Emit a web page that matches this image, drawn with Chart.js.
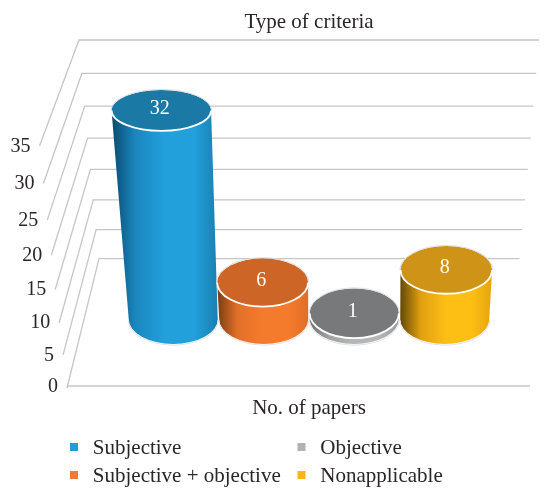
<!DOCTYPE html>
<html>
<head>
<meta charset="utf-8">
<style>html,body{margin:0;padding:0;background:#fff}#w{width:547px;height:488px}</style>
<script src="https://cdn.jsdelivr.net/npm/chart.js@4"></script>
</head>
<body>
<div id="w"><canvas id="c" width="547" height="488"></canvas></div>
<script>
const categories = ["Subjective", "Subjective + objective", "Objective", "Nonapplicable"];
const values = [32, 6, 1, 8];
const tickLabels = [0, 5, 10, 15, 20, 25, 30, 35];
const legendOrder = ["Subjective", "Objective", "Subjective + objective", "Nonapplicable"];

const FONT = '"Liberation Serif"';
const INK = '#2a2627';
const swatch = ['#1f9ddb', '#f47a2d', '#b2b3b6', '#fdb515'];
const topFill = ['#1b79a6', '#cc6525', '#77797b', '#cf9317'];
const sideStops = [
  ['#0a4a6e', '#1a86be', '#22a0dc', '#22a0dc', '#1a7fb0'],
  ['#7a3c14', '#e06f28', '#f57b2c', '#f57b2c', '#e26e27'],
  ['#6f7173', '#a0a2a4', '#b4b6b8', '#b4b6b8', '#98999b'],
  ['#634805', '#e09f10', '#fdbf14', '#fdbf14', '#e5a30f']
];

function wave(t) { return 4 * t * (1 - t); }
function wallPoints(t) {
  return {
    fx: 67 - 27.5 * t, fy: 386 - 240 * t + 6.5 * wave(t),
    bx: 99 - 20 * t,   by: 258.7 - 218.7 * t + 4.5 * wave(t),
    rx: 519.5 + 19.5 * t
  };
}

const scene = {
  id: 'scene',
  beforeDatasetsDraw(chart) {
    const ctx = chart.ctx, y = chart.scales.y, area = chart.chartArea;
    const span = area.bottom - area.top;
    ctx.save();
    ctx.lineWidth = 1.3;
    ctx.lineCap = 'butt';
    tickLabels.forEach(v => {
      const t = (area.bottom - y.getPixelForValue(v)) / span;
      const p = wallPoints(t);
      ctx.strokeStyle = '#c6c6c6';
      ctx.beginPath();
      ctx.moveTo(p.fx, v === 0 ? p.fy + 2 : p.fy);
      ctx.lineTo(p.bx, p.by);
      ctx.lineTo(p.rx, p.by);
      ctx.stroke();
      ctx.fillStyle = INK;
      ctx.font = '20px ' + FONT;
      ctx.textAlign = 'right';
      ctx.textBaseline = 'middle';
      ctx.fillText(String(v), p.fx - 9, p.fy + 0.5);
    });
    ctx.strokeStyle = '#c6c6c6';
    ctx.beginPath();
    ctx.moveTo(67, 386);
    ctx.lineTo(530, 386);
    ctx.stroke();

    const meta = chart.getDatasetMeta(0);
    meta.data.forEach((el, i) => {
      const t = (area.bottom - el.y) / span;
      const baseX = el.x, baseY = area.bottom;
      const rb = el.width / 2, ryb = 24.5;
      const topX = baseX + (baseX - 352) * 0.073 * t;
      const topY = baseY - 212.5 * t - 17.5 * t * t;
      const rt = rb * (1 + 0.13 * t), ryt = 25 - 5 * t;

      const sidePath = () => {
        ctx.beginPath();
        ctx.moveTo(topX - rt, topY);
        ctx.lineTo(baseX - rb, baseY);
        ctx.ellipse(baseX, baseY, rb, ryb, 0, Math.PI, 0, true);
        ctx.lineTo(topX + rt, topY);
        ctx.ellipse(topX, topY, rt, ryt, 0, 0, Math.PI, false);
        ctx.closePath();
      };
      const g = ctx.createLinearGradient(Math.min(baseX - rb, topX - rt), 0, Math.max(baseX + rb, topX + rt), 0);
      const stops = [0, 0.22, 0.5, 0.78, 1];
      sideStops[i].forEach((c, k) => g.addColorStop(stops[k], c));
      sidePath();
      ctx.fillStyle = g;
      ctx.fill();
      ctx.strokeStyle = '#e2e2e2';
      ctx.lineWidth = 1;
      ctx.beginPath();
      ctx.ellipse(baseX, baseY + 0.6, rb + 0.6, ryb + 0.6, 0, Math.PI, 0, true);
      ctx.stroke();

      ctx.beginPath();
      ctx.ellipse(topX, topY, rt, ryt, 0, 0, Math.PI * 2);
      ctx.fillStyle = topFill[i];
      ctx.fill();
      ctx.strokeStyle = '#dedede';
      ctx.lineWidth = 1;
      ctx.beginPath();
      ctx.ellipse(topX, topY, rt + 0.6, ryt + 0.6, 0, Math.PI, 0, false);
      ctx.stroke();
      ctx.strokeStyle = '#ffffff';
      ctx.lineWidth = 1.8;
      ctx.beginPath();
      ctx.ellipse(topX, topY, rt, ryt, 0, 0, Math.PI, false);
      ctx.stroke();

      ctx.fillStyle = '#ffffff';
      ctx.font = '20px ' + FONT;
      ctx.textAlign = 'center';
      ctx.textBaseline = 'middle';
      ctx.fillText(String(values[i]), topX - 1.5, topY - 2);
    });
    ctx.restore();
    return false;
  },
  afterDraw(chart) {
    const ctx = chart.ctx;
    ctx.save();
    legendOrder.forEach((name, n) => {
      const lx = n % 2 === 0 ? 70 : 297.5;
      const ly = n < 2 ? 447 : 475;
      ctx.fillStyle = swatch[categories.indexOf(name)];
      ctx.fillRect(lx, ly - 4, 8, 8);
      ctx.fillStyle = INK;
      ctx.font = '21px ' + FONT;
      ctx.textAlign = 'left';
      ctx.textBaseline = 'middle';
      ctx.fillText(name, lx + 22.8, ly + 1);
    });
    ctx.restore();
  }
};

new Chart(document.getElementById('c'), {
  type: 'bar',
  data: {
    labels: categories,
    datasets: [{
      label: 'No. of papers',
      data: values,
      backgroundColor: swatch,
      categoryPercentage: 1,
      barPercentage: 0.983
    }]
  },
  plugins: [scene],
  options: {
    responsive: false,
    animation: false,
    devicePixelRatio: 1,
    layout: { padding: { left: 128, right: 57, top: 0, bottom: 66.5 } },
    plugins: {
      legend: { display: false },
      tooltip: { enabled: false },
      title: {
        display: true,
        text: 'Type of criteria',
        color: INK,
        font: { family: FONT, size: 21, weight: 'normal' },
        padding: { top: 9.4, bottom: 55.4 }
      }
    },
    scales: {
      x: {
        grid: { display: false },
        border: { display: false },
        ticks: { display: false },
        title: {
          display: true,
          text: 'No. of papers',
          color: INK,
          font: { family: FONT, size: 21 },
          padding: { top: 68.9, bottom: 0 }
        }
      },
      y: { display: false, min: 0, max: 35 }
    }
  }
});
</script>
</body>
</html>
